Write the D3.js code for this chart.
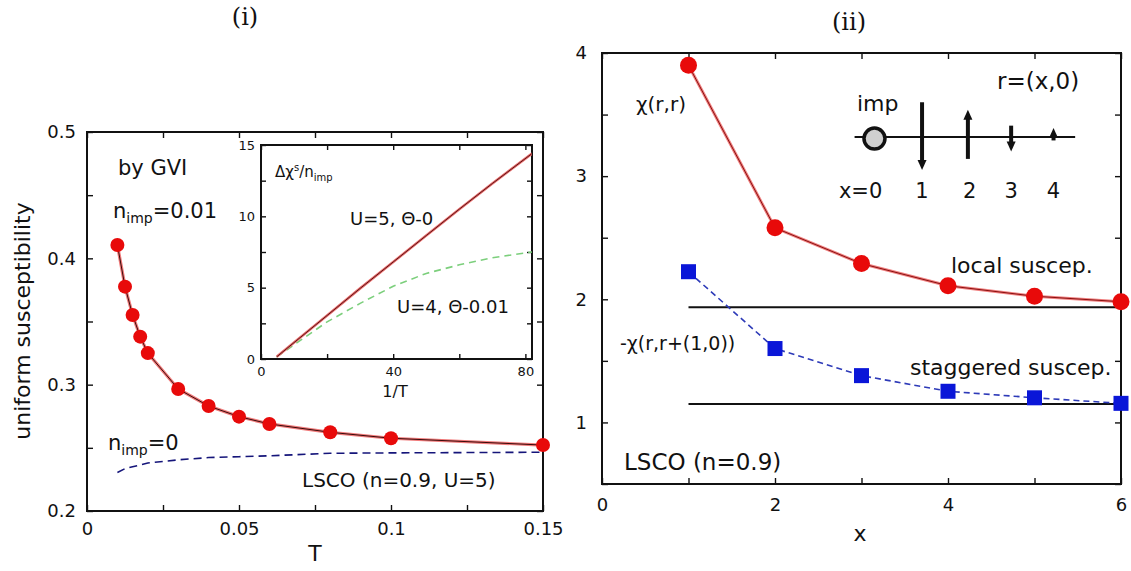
<!DOCTYPE html>
<html>
<head>
<meta charset="utf-8">
<script src="https://cdn.jsdelivr.net/npm/d3@7"></script>
<style>
  body { margin: 0; background: #fff; }
  svg text { font-family: "DejaVu Sans", sans-serif; fill: #111; }
</style>
</head>
<body>
<svg id="fig" width="1131" height="571"></svg>
<script>
// ---------- panel (i): uniform susceptibility vs T ----------
const tempT      = [0.01, 0.0125, 0.015, 0.0175, 0.02, 0.03, 0.04, 0.05, 0.06, 0.08, 0.1, 0.15];
const chiImp     = [0.4106, 0.3776, 0.3552, 0.338, 0.325, 0.2966, 0.2831, 0.2747, 0.2689, 0.2623, 0.2576, 0.2522];
const chiPure    = [0.2305, 0.2335, 0.235, 0.2365, 0.238, 0.2405, 0.2423, 0.243, 0.2437, 0.2457, 0.246, 0.2465];
const tTicks     = [0, 0.025, 0.05, 0.075, 0.1, 0.125, 0.15];
const tLabels    = [0, 0.05, 0.1, 0.15];
const chiTicks   = [0.2, 0.25, 0.3, 0.35, 0.4, 0.45, 0.5];
const chiLabels  = [0.2, 0.3, 0.4, 0.5];

// inset: impurity-induced susceptibility vs 1/T
const invT       = [4.75, 10, 20, 30, 40, 50, 60, 70, 82];
const dChiU5     = [0.15, 1.15, 3.05, 4.95, 6.8, 8.65, 10.5, 12.3, 14.4];
const dChiU4     = [0.15, 1.0, 2.6, 3.9, 5.1, 6.0, 6.6, 7.1, 7.5];
const invTTicks  = [0, 20, 40, 60, 80];
const invTLabels = [0, 40, 80];
const dChiTicks  = [0, 2.5, 5, 7.5, 10, 12.5, 15];
const dChiLabels = [0, 5, 10, 15];

// ---------- panel (ii): local and staggered susceptibility vs distance ----------
const siteX      = [1, 2, 3, 4, 5, 6];
const chiLocal   = [3.90, 2.58, 2.29, 2.11, 2.025, 1.98];
const chiStag    = [2.224, 1.60, 1.38, 1.253, 1.20, 1.155];
const bulkLocal  = 1.936;
const bulkStag   = 1.149;
const xTicks     = [0, 1, 2, 3, 4, 5, 6];
const xLabels    = [0, 2, 4, 6];
const yTicks     = [0.5, 1, 1.5, 2, 2.5, 3, 3.5, 4];
const yLabels    = [1, 2, 3, 4];

// chain sketch: impurity at x=0 and staggered moments on sites 1..4
const chainSpan  = [2.92, 5.47];
const chainLevel = 3.317;
const impSite    = 3.15;
const spinAt     = [3.70, 4.23, 4.73, 5.22];
const spinFrom   = [3.60, 3.14, 3.41, 3.29];
const spinTo     = [3.05, 3.54, 3.20, 3.39];
const siteNames  = ["x=0", "1", "2", "3", "4"];
const siteNameAt = [2.99, 3.70, 4.25, 4.73, 5.22];

const svg = d3.select("#fig");

// gnuplot-like boxed axes with inward ticks on all four sides
function boxAxes(g, x, y, o) {
  const [x0, x1] = x.range(), [y0, y1] = y.range();
  const fmt = (labels, f) => d => labels.some(v => Math.abs(v - d) < 1e-9) ? f(d) : "";
  g.append("g").attr("transform", `translate(0,${y0})`)
    .call(d3.axisBottom(x).tickValues(o.xt).tickSize(-o.tl).tickPadding(o.xpad)
      .tickFormat(fmt(o.xl, o.fx)));
  g.append("g").attr("transform", `translate(0,${y1})`)
    .call(d3.axisTop(x).tickValues(o.xt).tickSize(-o.tl).tickFormat(""));
  g.append("g").attr("transform", `translate(${x0},0)`)
    .call(d3.axisLeft(y).tickValues(o.yt).tickSize(-o.tl).tickPadding(o.ypad)
      .tickFormat(fmt(o.yl, o.fy)));
  g.append("g").attr("transform", `translate(${x1},0)`)
    .call(d3.axisRight(y).tickValues(o.yt).tickSize(-o.tl).tickFormat(""));
  g.selectAll(".domain").remove();
  g.selectAll(".tick line").attr("stroke", "#111").attr("stroke-width", 1.4);
  g.selectAll(".tick text").style("font-family", "DejaVu Sans, sans-serif")
    .style("font-size", o.fs + "px").attr("fill", "#111");
  g.append("rect").attr("x", x0).attr("y", y1).attr("width", x1 - x0).attr("height", y0 - y1)
    .attr("fill", "none").attr("stroke", "#111").attr("stroke-width", 2);
}

// ================= panel (i) =================
const xT = d3.scaleLinear().domain([0, 0.15]).range([87, 543]);
const yC = d3.scaleLinear().domain([0.2, 0.5]).range([511, 132]);
const gL = svg.append("g");

boxAxes(gL, xT, yC, { xt: tTicks, xl: tLabels, yt: chiTicks, yl: chiLabels,
  fx: d => String(d), fy: d => String(d), tl: 6, xpad: 11, ypad: 11, fs: 18 });

// pure system (dashed)
gL.append("path")
  .attr("d", d3.line().x((d, i) => xT(tempT[i])).y(d => yC(d))(chiPure))
  .attr("fill", "none").attr("stroke", "#15157a").attr("stroke-width", 1.6)
  .attr("stroke-dasharray", "8,5");

// with impurities (red line + circles)
const impLine = d3.line().x((d, i) => xT(tempT[i])).y(d => yC(d));
gL.append("path").attr("d", impLine(chiImp))
  .attr("fill", "none").attr("stroke", "#f07a7a").attr("stroke-width", 3.2);
gL.append("path").attr("d", impLine(chiImp))
  .attr("fill", "none").attr("stroke", "#3a0a0a").attr("stroke-width", 1);
gL.selectAll("circle.imp").data(chiImp).join("circle").attr("class", "imp")
  .attr("cx", (d, i) => xT(tempT[i])).attr("cy", d => yC(d)).attr("r", 7)
  .attr("fill", "#e80a0a");

// annotations
gL.append("text").attr("x", 118).attr("y", 175).style("font-size", "21px").text("by GVI");
const n1 = gL.append("text").attr("x", 113).attr("y", 218).style("font-size", "21px");
n1.append("tspan").text("n");
n1.append("tspan").attr("dy", 5).style("font-size", "14px").text("imp");
n1.append("tspan").attr("dy", -5).text("=0.01");
const n0 = gL.append("text").attr("x", 108).attr("y", 450).style("font-size", "21px");
n0.append("tspan").text("n");
n0.append("tspan").attr("dy", 5).style("font-size", "14px").text("imp");
n0.append("tspan").attr("dy", -5).text("=0");
gL.append("text").attr("x", 302).attr("y", 487).style("font-size", "20px").text("LSCO (n=0.9, U=5)");

gL.append("text").attr("x", 315).attr("y", 561).attr("text-anchor", "middle")
  .style("font-size", "22px").text("T");
gL.append("text").attr("transform", "translate(30,321) rotate(-90)").attr("text-anchor", "middle")
  .style("font-size", "22px").text("uniform susceptibility");
gL.append("text").attr("x", 245).attr("y", 25).attr("text-anchor", "middle")
  .style("font-family", "DejaVu Serif, serif").style("font-size", "24px").text("(i)");

// ---- inset ----
const xI = d3.scaleLinear().domain([0, 82]).range([261, 532]);
const yI = d3.scaleLinear().domain([0, 15]).range([359, 145]);
const gI = svg.append("g");
gI.append("rect").attr("x", 261).attr("y", 145).attr("width", 271).attr("height", 214).attr("fill", "#fff");
gI.append("clipPath").attr("id", "insetClip").append("rect")
  .attr("x", 261).attr("y", 145).attr("width", 271).attr("height", 214);
boxAxes(gI, xI, yI, { xt: invTTicks, xl: invTLabels, yt: dChiTicks, yl: dChiLabels,
  fx: d => String(d), fy: d => String(d), tl: 5, xpad: 8, ypad: 6, fs: 13 });

const insetLine = d3.line().x((d, i) => xI(invT[i])).y(d => yI(d));
const gIc = gI.append("g").attr("clip-path", "url(#insetClip)");
gIc.append("path").attr("d", insetLine(dChiU4)).attr("fill", "none")
  .attr("stroke", "#7ccf7c").attr("stroke-width", 1.6).attr("stroke-dasharray", "7,5");
gIc.append("path").attr("d", insetLine(dChiU5)).attr("fill", "none")
  .attr("stroke", "#e96a6a").attr("stroke-width", 2.6);
gIc.append("path").attr("d", insetLine(dChiU5)).attr("fill", "none")
  .attr("stroke", "#4a0d0d").attr("stroke-width", 0.9);

const dl = gI.append("text").attr("x", 275).attr("y", 177).style("font-size", "15px");
dl.append("tspan").text("Δχ");
dl.append("tspan").attr("dy", -6).style("font-size", "10px").text("s");
dl.append("tspan").attr("dy", 6).text("/n");
dl.append("tspan").attr("dy", 4).style("font-size", "10px").text("imp");
gI.append("text").attr("x", 350).attr("y", 225).style("font-size", "18px").text("U=5, Θ-0");
gI.append("text").attr("x", 397).attr("y", 313).style("font-size", "18px").text("U=4, Θ-0.01");
gI.append("text").attr("x", 395).attr("y", 397).attr("text-anchor", "middle")
  .style("font-size", "16px").text("1/T");

// ================= panel (ii) =================
const xS = d3.scaleLinear().domain([0, 6]).range([602, 1121]);
const yS = d3.scaleLinear().domain([0.5, 4]).range([484, 53]);
const gR = svg.append("g");

boxAxes(gR, xS, yS, { xt: xTicks, xl: xLabels, yt: yTicks, yl: yLabels,
  fx: d => String(d), fy: d => String(d), tl: 6, xpad: 14, ypad: 15, fs: 18 });

// bulk values (solid horizontal lines from x=1)
[bulkLocal, bulkStag].forEach(v => {
  gR.append("line").attr("x1", xS(1)).attr("x2", xS(6)).attr("y1", yS(v)).attr("y2", yS(v))
    .attr("stroke", "#111").attr("stroke-width", 2);
});

const siteLine = d3.line().x((d, i) => xS(siteX[i])).y(d => yS(d));
gR.append("path").attr("d", siteLine(chiStag)).attr("fill", "none")
  .attr("stroke", "#2d3ab8").attr("stroke-width", 1.6).attr("stroke-dasharray", "6,4");
gR.append("path").attr("d", siteLine(chiLocal)).attr("fill", "none")
  .attr("stroke", "#f08080").attr("stroke-width", 3);
gR.append("path").attr("d", siteLine(chiLocal)).attr("fill", "none")
  .attr("stroke", "#8a1010").attr("stroke-width", 1);

gR.selectAll("rect.stag").data(chiStag).join("rect").attr("class", "stag")
  .attr("x", (d, i) => xS(siteX[i]) - 7.5).attr("y", d => yS(d) - 7.5)
  .attr("width", 15).attr("height", 15).attr("fill", "#0a16d8");
gR.selectAll("circle.loc").data(chiLocal).join("circle").attr("class", "loc")
  .attr("cx", (d, i) => xS(siteX[i])).attr("cy", d => yS(d)).attr("r", 8.5)
  .attr("fill", "#e80a0a");

// chain sketch
gR.append("line").attr("x1", xS(chainSpan[0])).attr("x2", xS(chainSpan[1]))
  .attr("y1", yS(chainLevel)).attr("y2", yS(chainLevel)).attr("stroke", "#111").attr("stroke-width", 2);
gR.append("circle").attr("cx", xS(impSite)).attr("cy", yS(chainLevel) + 1.5).attr("r", 10.5)
  .attr("fill", "#cfcfcf").attr("stroke", "#111").attr("stroke-width", 3.5);
spinAt.forEach((sx, i) => {
  const px = xS(sx), ya = yS(spinFrom[i]), yb = yS(spinTo[i]);
  const dir = Math.sign(yb - ya), head = 10;
  gR.append("line").attr("x1", px).attr("x2", px).attr("y1", ya).attr("y2", yb - dir * head * 0.6)
    .attr("stroke", "#111").attr("stroke-width", 4);
  gR.append("path")
    .attr("d", `M${px - 4.5},${yb - dir * head} L${px + 4.5},${yb - dir * head} L${px},${yb} Z`)
    .attr("fill", "#111");
});
siteNames.forEach((s, i) => {
  gR.append("text").attr("x", xS(siteNameAt[i])).attr("y", 198).attr("text-anchor", "middle")
    .style("font-size", "21px").text(s);
});
gR.append("text").attr("x", 857).attr("y", 111).style("font-size", "22px").text("imp");
gR.append("text").attr("x", 997).attr("y", 89).style("font-size", "23px").text("r=(x,0)");

gR.append("text").attr("x", 636).attr("y", 111).style("font-size", "20px").text("χ(r,r)");
gR.append("text").attr("x", 951).attr("y", 273).style("font-size", "22px").text("local suscep.");
gR.append("text").attr("x", 620).attr("y", 350).style("font-size", "19px").text("-χ(r,r+(1,0))");
gR.append("text").attr("x", 910).attr("y", 375).style("font-size", "22px").text("staggered suscep.");
gR.append("text").attr("x", 624).attr("y", 470).style("font-size", "23px").text("LSCO (n=0.9)");

gR.append("text").attr("x", 860).attr("y", 541).attr("text-anchor", "middle")
  .style("font-size", "22px").text("x");
gR.append("text").attr("x", 849).attr("y", 30).attr("text-anchor", "middle")
  .style("font-family", "DejaVu Serif, serif").style("font-size", "24px").text("(ii)");
</script>
</body>
</html>
